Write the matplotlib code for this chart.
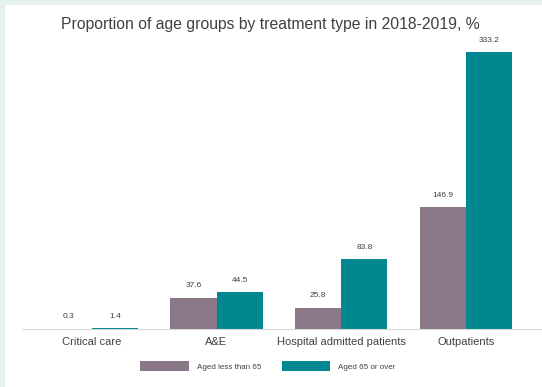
import numpy as np
import matplotlib
matplotlib.use("Agg")
from matplotlib import pyplot as plt
from matplotlib.patches import Rectangle

categories = ["Critical care", "A&E", "Hospital admitted patients", "Outpatients"]
under_65 = [0.3, 37.6, 25.8, 146.9]
over_65 = [1.4, 44.5, 83.8, 333.2]
series_names = ["Aged less than 65", "Aged 65 or over"]

PURPLE = "#8a7788"
TEAL = "#00878f"
TEXT = "#404040"

plt.rcParams["font.family"] = ["Liberation Sans", "DejaVu Sans"]

W, H = 542, 387
fig = plt.figure(figsize=(W / 100, H / 100), dpi=100, facecolor="#e6f2f0")
fig.patches.append(Rectangle((5 / W, 0), 1, 1 - 5 / H, transform=fig.transFigure,
                             facecolor="white", edgecolor="none", zorder=-5))

# axes box in pixels: left 22, right 542, baseline at 329, top at 40
ax = fig.add_axes([22 / W, (H - 329) / H, 1 - 22 / W, (329 - 40) / H])
ax.set_facecolor("white")

x = np.arange(len(categories))
width = 0.37
b1 = ax.bar(x - width / 2, under_65, width, color=PURPLE, label=series_names[0])
b2 = ax.bar(x + width / 2, over_65, width, color=TEAL, label=series_names[1])

for bars, vals in ((b1, under_65), (b2, over_65)):
    for rect, v in zip(bars, vals):
        ax.annotate(f"{v:.1f}", (rect.get_x() + rect.get_width() / 2, rect.get_height()),
                    xytext=(0, 6), textcoords="offset points", ha="center", va="bottom",
                    fontsize=6, color=TEXT)

ax.set_xlim(-0.56, 3.61)
ax.set_ylim(0, 348)
ax.set_xticks(x)
ax.set_xticklabels(categories, fontsize=8, color=TEXT)
ax.tick_params(axis="x", length=0, pad=6)
ax.set_yticks([])
for side in ("top", "right", "left"):
    ax.spines[side].set_visible(False)
ax.spines["bottom"].set_color("#d9d9d9")
ax.spines["bottom"].set_linewidth(0.8)

fig.text(270 / W, 1 - 25 / H, "Proportion of age groups by treatment type in 2018-2019, %",
         ha="center", va="center", fontsize=11.3, color=TEXT)

fig.legend(handles=[b1, b2], labels=series_names, loc="center", ncol=2,
           bbox_to_anchor=(268 / W, 1 - 366 / H), frameon=False, fontsize=5.8,
           handlelength=6, handleheight=1.7, handletextpad=1.0, columnspacing=2.6,
           labelcolor=TEXT)

fig.savefig("out.png", dpi=100, facecolor=fig.get_facecolor())
